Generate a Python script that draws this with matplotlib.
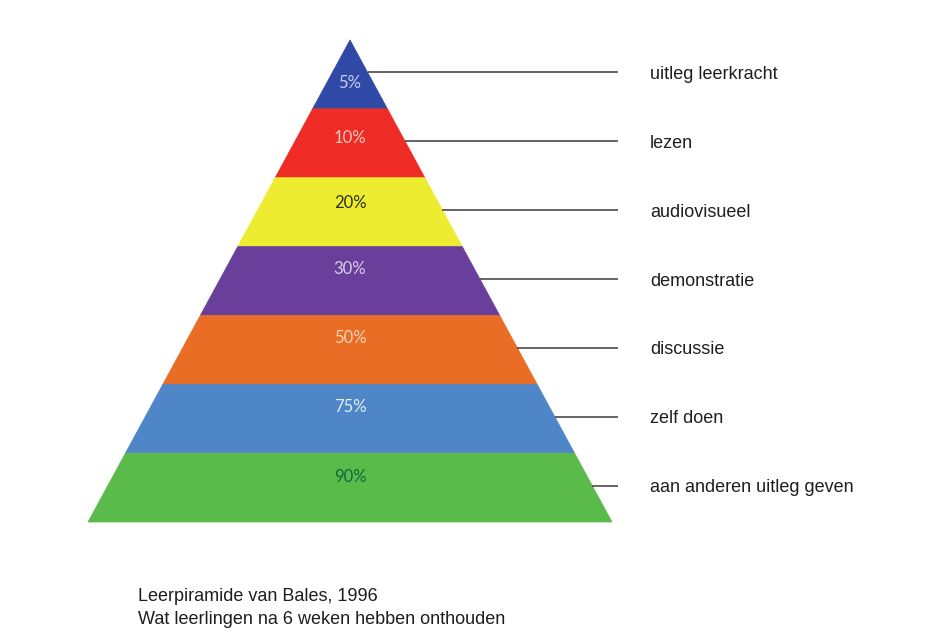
import matplotlib.pyplot as plt
from matplotlib.patches import Polygon

# Leerpiramide (van boven naar beneden)
percentages = ["5%", "10%", "20%", "30%", "50%", "75%", "90%"]
methods = ["uitleg leerkracht", "lezen", "audiovisueel", "demonstratie",
           "discussie", "zelf doen", "aan anderen uitleg geven"]
band_colors = ["#3049a6", "#ee2b24", "#eeec30", "#6a3f9c",
               "#e96d25", "#4f86c8", "#5bbb4a"]
pct_colors = ["#c9ccf0", "#f9c8c4", "#2c3318", "#d9cdea",
              "#f8d6b8", "#e2ecf8", "#0b6a3c"]
caption = ["Leerpiramide van Bales, 1996",
           "Wat leerlingen na 6 weken hebben onthouden"]

# ligging van de percentages binnen elke band (0 = boven, 1 = onder)
pct_pos = [0.62, 0.43, 0.37, 0.33, 0.33, 0.33, 0.35]

n = len(percentages)
half_base = 3.805   # halve breedte van de basis, in bandhoogtes

fig = plt.figure(figsize=(9.34, 6.33), dpi=100)
ax = fig.add_axes([0, 0, 1, 1])
ax.set_xlim(-5.083, 8.481)
ax.set_ylim(8.612, -0.581)
ax.axis("off")


def half_width(depth):
    return half_base * depth / n


for i in range(n):
    top, bot = i, i + 1
    pts = [(-half_width(top), top), (half_width(top), top),
           (half_width(bot), bot), (-half_width(bot), bot)]
    ax.add_patch(Polygon(pts, closed=True, facecolor=band_colors[i],
                         edgecolor=band_colors[i], lw=0.5))
    ax.text(0, i + pct_pos[i], percentages[i], ha="center", va="center",
            fontsize=12, color=pct_colors[i], family="Lato")

    # verbindingslijn naar het label
    y = i + 0.47
    ax.plot([half_width(y), 3.892], [y, y], color="#3a3a3a", lw=1.1,
            solid_capstyle="butt")
    ax.text(4.357, y + 0.03, methods[i], ha="left", va="center",
            fontsize=13, color="#1e1e1e", family="Liberation Sans")

ax.text(-3.079, 8.089, caption[0], ha="left", va="center",
        fontsize=13, color="#1e1e1e", family="Liberation Sans")
ax.text(-3.079, 8.423, caption[1], ha="left", va="center",
        fontsize=13, color="#1e1e1e", family="Liberation Sans")

fig.savefig("out.png", dpi=100, facecolor="white")
